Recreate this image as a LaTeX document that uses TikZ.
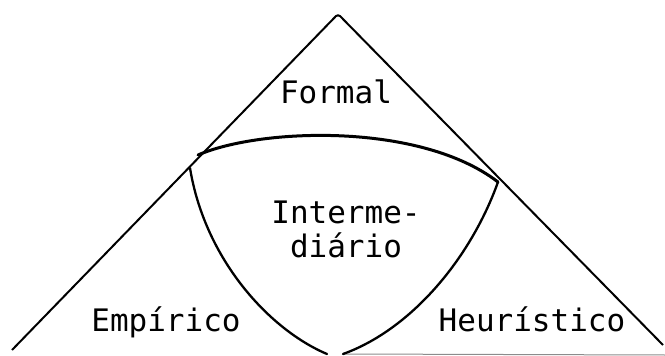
\documentclass[tikz,border=0pt]{standalone}
\usepackage{fontspec}
\setmonofont{DejaVu Sans Mono}
\usepackage{tikz}
\usetikzlibrary{positioning}

\begin{document}
\begin{tikzpicture}[
  x=1pt, y=-1pt,
  label/.style={font=\ttfamily\fontsize{31}{36}\selectfont, inner sep=0pt, align=center},
  edge/.style={line width=2pt, line join=round},
  curve/.style={line width=2.3pt, line cap=round},
  base/.style={line width=1pt, draw=black!45}
]
\useasboundingbox (0,0) rectangle (665,356);

% corners of the triangle
\coordinate (apex) at (338,14);
\coordinate (left) at (12,350);
\coordinate (right) at (663,345);

% ends of the inner curves
\coordinate (tl) at (198,155);
\coordinate (tr) at (498,182);
\coordinate (ml) at (190,168);
\coordinate (bl) at (327,354);
\coordinate (br) at (343,354);
\coordinate (bend) at (665,355);

\node[label] (formal) at (336,92) {Formal};
\node[label] (inter) at (346,229) {Interme-\\[-2pt]diário};
\node[label] (emp) at (166,322) {Empírico};
\node[label] (heur) at (532,319) {Heurístico};

\draw[edge, rounded corners=3pt] (left) -- (apex) -- (right);
\draw[base] (br) -- (bend);

\draw[curve, line width=3pt] (tl) .. controls (260,128) and (420,122) .. (tr);
\draw[curve] (ml) .. controls (205,260) and (270,330) .. (bl);
\draw[curve] (tr) .. controls (470,260) and (410,330) .. (br);
\end{tikzpicture}
\end{document}
